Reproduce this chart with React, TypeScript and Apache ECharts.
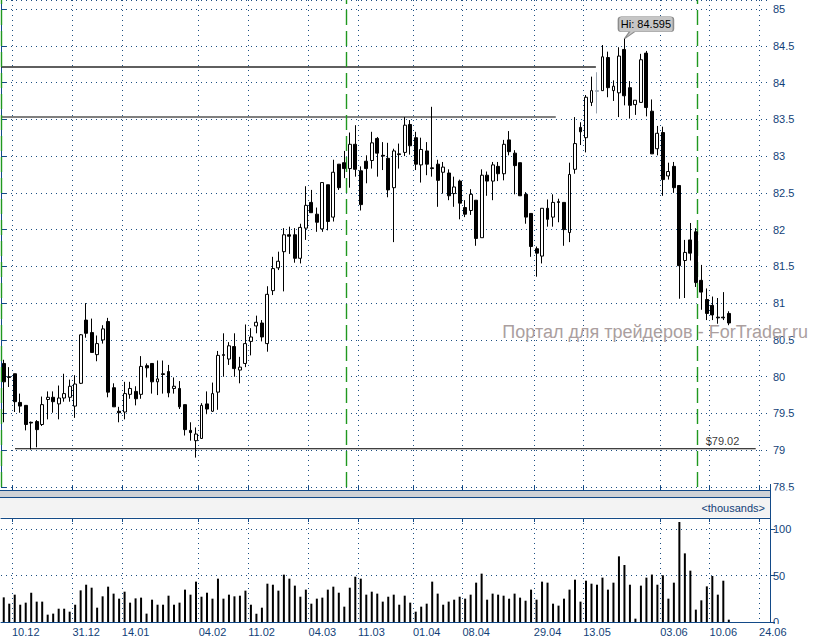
import React, { useEffect, useRef } from 'react';
import * as echarts from 'echarts';

// ---------- data ----------
const SLOT_COUNT = 140; // bar slots on the time axis (incl. empty future slots)

const tickBoundaries = [2, 13, 22, 36, 45, 56, 65, 75, 84, 97, 106, 120, 129, 138];
const tickLabels = ['10.12', '31.12', '14.01', '04.02', '11.02', '04.03', '11.03', '01.04', '08.04', '29.04', '13.05', '03.06', '10.06', '24.06'];

const opens = [
  80.18, 80.00, 80.04, 79.65, 79.61, 79.38, 79.39, 79.35, 79.69, 79.72,
  79.63, 79.71, 79.72, 79.60, 79.91, 80.77, 80.60, 80.30, 80.50, 80.75,
  79.85, 79.53, 79.52, 79.76, 79.80, 79.76, 80.15, 80.18, 79.93, 80.04,
  80.07, 79.84, 79.84, 79.62, 79.27, 79.13, 79.16, 79.63, 79.53, 79.79,
  80.30, 80.24, 80.41, 80.09, 80.18, 80.48, 80.69, 80.73, 80.45, 81.17,
  81.48, 81.70, 81.93, 81.93, 81.61, 82.02, 82.37, 82.21, 82.01, 82.61,
  82.17, 82.89, 82.91, 82.83, 83.16, 82.80, 82.93, 82.94, 83.24, 83.01,
  82.97, 82.57, 83.03, 83.05, 83.43, 83.25, 82.88, 83.07, 82.84, 82.89,
  82.78, 82.77, 82.49, 82.66, 82.30, 82.26, 82.40, 81.89, 82.74, 82.66,
  82.86, 82.76, 83.22, 83.04, 82.91, 82.48, 82.22, 81.74, 81.64, 82.29,
  82.17, 82.38, 82.37, 81.96, 82.82, 83.39, 83.25, 83.73, 83.89, 83.89,
  84.34, 83.89, 83.86, 84.45, 83.93, 83.70, 83.73, 84.40, 83.61, 83.10,
  83.32, 82.73, 82.86, 82.60, 81.58, 81.86, 81.97, 81.31, 81.05, 80.97,
  80.81, 80.81, 80.86,
];
const closes = [
  79.93, 79.99, 79.66, 79.60, 79.35, 79.37, 79.28, 79.62, 79.72, 79.66,
  79.71, 79.77, 79.87, 79.90, 80.57, 80.59, 80.33, 80.45, 80.65, 79.79,
  79.59, 79.51, 79.77, 79.84, 79.70, 80.14, 80.12, 79.93, 79.97, 80.03,
  79.78, 79.87, 79.59, 79.28, 79.24, 79.22, 79.61, 79.56, 79.77, 80.29,
  80.29, 80.42, 80.11, 80.13, 80.45, 80.54, 80.74, 80.54, 81.12, 81.47,
  81.57, 81.93, 81.91, 81.61, 82.03, 82.33, 82.23, 82.10, 82.64, 82.11,
  82.78, 82.57, 82.83, 83.16, 82.82, 82.34, 82.83, 83.18, 83.04, 83.00,
  82.54, 83.07, 83.02, 83.42, 83.14, 82.89, 83.09, 82.89, 82.83, 82.67,
  82.85, 82.46, 82.58, 82.36, 82.21, 82.48, 81.88, 82.74, 82.66, 82.88,
  82.76, 83.16, 83.06, 82.87, 82.46, 82.17, 81.77, 81.68, 82.29, 82.14,
  82.37, 82.37, 82.00, 82.75, 83.17, 83.33, 83.80, 83.89, 83.88, 84.35,
  83.93, 83.95, 84.36, 83.82, 83.69, 83.76, 84.31, 83.66, 83.03, 83.31,
  82.68, 82.79, 82.57, 81.51, 81.69, 81.68, 81.28, 81.15, 80.86, 80.84,
  80.80, 80.80, 80.73,
];
const lows = [
  79.38, 79.86, 79.52, 79.51, 79.27, 79.01, 79.04, 79.33, 79.42, 79.51,
  79.42, 79.66, 79.66, 79.44, 79.90, 80.53, 80.33, 80.21, 80.45, 79.72,
  79.59, 79.38, 79.42, 79.70, 79.61, 79.70, 79.99, 79.77, 79.75, 79.77,
  79.72, 79.77, 79.56, 79.20, 79.13, 78.90, 79.16, 79.49, 79.52, 79.55,
  80.00, 80.16, 80.00, 79.91, 80.13, 80.29, 80.59, 80.48, 80.34, 81.11,
  81.45, 81.16, 81.67, 81.55, 81.54, 81.86, 82.23, 81.97, 81.97, 81.99,
  82.11, 82.54, 82.70, 82.57, 82.72, 82.26, 82.63, 82.83, 82.72, 82.81,
  82.44, 81.83, 82.83, 83.00, 83.02, 82.81, 82.64, 82.74, 82.72, 82.31,
  82.49, 82.40, 82.31, 82.14, 82.17, 82.20, 81.78, 81.89, 82.46, 82.40,
  82.66, 82.67, 83.01, 82.48, 82.46, 82.08, 81.63, 81.36, 81.54, 82.04,
  82.04, 82.10, 81.78, 81.83, 82.76, 83.15, 83.05, 83.68, 83.58, 83.89,
  83.80, 83.75, 83.53, 83.69, 83.51, 83.56, 83.73, 83.54, 83.03, 83.01,
  82.46, 82.68, 82.50, 81.06, 81.07, 81.58, 81.22, 80.91, 80.77, 80.77,
  80.72, 80.77, 80.70,
];
const highs = [
  80.23, 80.13, 80.04, 79.77, 79.61, 79.39, 79.41, 79.73, 79.80, 79.80,
  79.88, 80.04, 79.96, 80.02, 80.58, 81.00, 80.79, 80.56, 80.70, 80.80,
  79.91, 79.59, 79.93, 79.93, 79.87, 80.28, 80.18, 80.18, 80.22, 80.22,
  80.16, 79.99, 79.94, 79.62, 79.38, 79.31, 79.64, 79.80, 79.92, 80.35,
  80.59, 80.47, 80.59, 80.27, 80.71, 80.66, 80.83, 80.77, 81.23, 81.63,
  81.70, 82.02, 82.04, 82.02, 82.08, 82.59, 82.54, 82.30, 82.64, 82.61,
  82.95, 82.89, 83.07, 83.32, 83.42, 82.86, 83.01, 83.33, 83.26, 83.19,
  83.18, 83.10, 83.17, 83.53, 83.49, 83.33, 83.25, 83.19, 83.67, 82.95,
  82.92, 82.82, 82.72, 82.68, 82.40, 82.55, 82.40, 82.82, 82.79, 82.92,
  82.92, 83.22, 83.34, 83.08, 82.91, 82.51, 82.22, 81.77, 82.29, 82.41,
  82.48, 82.42, 82.37, 82.91, 83.53, 83.46, 83.83, 84.08, 84.14, 84.51,
  84.42, 84.03, 84.48, 84.595, 84.02, 83.76, 84.39, 84.43, 83.77, 83.41,
  83.40, 82.91, 82.92, 82.60, 81.86, 82.09, 82.02, 81.52, 81.20, 81.09,
  81.07, 81.15, 80.89,
];
const volumes = [
  26.5, 19.7, 29.4, 18.6, 20.8, 31.5, 21.9, 21.9, 7.9, 9.0,
  14.3, 14.3, 11.1, 18.6, 34.0, 40.1, 36.9, 15.4, 27.6, 38.0,
  30.5, 25.1, 32.6, 20.8, 25.4, 26.2, 9.0, 24.0, 18.6, 18.6,
  28.3, 18.6, 20.8, 34.8, 29.4, 43.4, 27.2, 31.5, 25.1, 46.6,
  25.1, 29.4, 27.6, 28.3, 33.7, 18.6, 9.0, 15.4, 41.2, 40.1,
  33.7, 50.9, 46.6, 39.1, 27.2, 34.8, 19.7, 25.1, 26.2, 34.8,
  38.0, 31.5, 16.5, 36.9, 48.7, 46.6, 29.4, 32.6, 30.5, 21.9,
  27.2, 29.4, 18.6, 28.3, 20.8, 11.1, 16.5, 19.7, 43.4, 30.5,
  18.6, 21.9, 24.0, 27.2, 25.1, 29.4, 42.3, 52.0, 24.0, 30.5,
  29.4, 28.3, 25.1, 30.5, 26.2, 22.9, 34.8, 24.0, 43.4, 42.3,
  19.7, 17.6, 25.1, 34.8, 45.5, 21.9, 44.4, 41.2, 40.1, 47.7,
  34.8, 42.3, 70.6, 61.3, 40.1, 3.6, 39.1, 47.7, 51.0, 40.1,
  50.2, 25.1, 42.3, 107.5, 73.8, 55.2, 13.3, 23.3, 38.3, 49.5,
  29.4, 44.4, 2.5,
];

const greyBarIndex = 108;
const highBarIndex = 113;
const highValue = 84.595;

// horizontal levels: [price, fromBoundary, toBoundary]
const resistanceUpper = [84.21, 0, 108.3];
const resistanceLower = [83.53, 0, 101];
const supportLevel = [79.02, 2.55, 137.4];
const supportLabelAt = 131.35;
const separatorBoundaries = [0, 62.9, 126.8];

// ---------- styling ----------
const FONT = '"Liberation Sans", Arial, sans-serif';
const BLUE = '#134a88';
const LABEL_BLUE = '#123f78';
const DOT = { color: '#1d4f82', type: [1, 4] as number[], width: 1 };

const slotNames = Array.from({ length: SLOT_COUNT }, (_, i) => 's' + i);
const boundaryNames = Array.from({ length: SLOT_COUNT + 1 }, (_, i) => 'b' + i);
const tickSet = new Set(tickBoundaries);
const isTick = (i: number) => tickSet.has(i);

const candleData = opens.map((o, i) => {
  const v = [o, closes[i], lows[i], highs[i]];
  if (i === greyBarIndex) {
    return {
      value: v,
      itemStyle: { color: '#9aa4b0', color0: '#9aa4b0', borderColor: '#9aa4b0', borderColor0: '#9aa4b0' },
    };
  }
  return v;
});

const MAIN_TOP = 0;
const MAIN_H = 487;
const PRICE_MIN = 78.5;
const PRICE_MAX = 85 + 9 / ((MAIN_H - 9) / 6.5);
const VOL_TOP = 518;
const VOL_H = 104;
const VOL_MAX = 104 / 0.93;

const halfStep = (v: number) => Math.abs(v * 2 - Math.round(v * 2)) < 1e-6;
const priceFmt = (v: number) => (halfStep(v) && v <= 85 ? String(+v.toFixed(1)) : '');
const volFmt = (v: number) => (v % 50 === 0 ? String(v) : '');

const calloutPath =
  'path://M3,0L52,0Q55,0 55,3L55,12Q55,15 52,15L16,15L6,22L11,15L3,15Q0,15 0,12L0,3Q0,0 3,0Z';

function buildOption(): any {
  return {
    animation: false,
    backgroundColor: '#ffffff',
    textStyle: { fontFamily: FONT },
    grid: [
      { left: 1, top: MAIN_TOP, width: 769, height: MAIN_H, containLabel: false },
      { left: 1, top: VOL_TOP, width: 769, height: VOL_H, containLabel: false },
    ],
    xAxis: [
      { type: 'category', gridIndex: 0, data: slotNames, boundaryGap: true, show: false },
      {
        type: 'category', gridIndex: 0, data: boundaryNames, boundaryGap: false, position: 'bottom', offset: 3,
        axisLine: { show: true, lineStyle: { color: BLUE, width: 1 } },
        axisTick: { show: true, inside: true, length: 4, interval: (i: number) => isTick(i), lineStyle: { color: BLUE } },
        axisLabel: { show: false },
        splitLine: { show: true, interval: (i: number) => isTick(i), lineStyle: DOT },
      },
      { type: 'value', gridIndex: 0, min: 0, max: SLOT_COUNT, show: false },
      { type: 'category', gridIndex: 1, data: slotNames, boundaryGap: true, show: false },
      {
        type: 'category', gridIndex: 1, data: boundaryNames, boundaryGap: false, position: 'bottom', z: 3,
        axisLine: { show: true, lineStyle: { color: BLUE, width: 1 } },
        axisTick: { show: false },
        axisLabel: {
          show: true,
          interval: (i: number) => isTick(i),
          formatter: (_v: string, i: number) => {
            const k = tickBoundaries.indexOf(i);
            return k >= 0 ? tickLabels[k] : '';
          },
          align: 'left', margin: 4, color: LABEL_BLUE, fontSize: 11, fontFamily: FONT,
        },
        splitLine: { show: true, interval: (i: number) => isTick(i), lineStyle: DOT },
      },
      {
        type: 'category', gridIndex: 1, data: boundaryNames, boundaryGap: false, position: 'top',
        axisLine: { show: true, lineStyle: { color: BLUE, width: 1 } },
        axisTick: { show: true, inside: true, length: 4, interval: (i: number) => isTick(i), lineStyle: { color: BLUE } },
        axisLabel: { show: false },
        splitLine: { show: false },
      },
    ],
    yAxis: [
      {
        type: 'value', gridIndex: 0, position: 'right', min: PRICE_MIN, max: PRICE_MAX, interval: 0.5,
        axisLine: { show: true, lineStyle: { color: BLUE } },
        axisTick: { show: true, length: 5, lineStyle: { color: BLUE } },
        axisLabel: { show: true, formatter: priceFmt, color: LABEL_BLUE, fontSize: 11, margin: 3, fontFamily: FONT, showMaxLabel: false },
        splitLine: { show: true, lineStyle: DOT },
      },
      {
        type: 'value', gridIndex: 1, position: 'right', min: 0, max: VOL_MAX, interval: 50, z: 1,
        axisLine: { show: true, lineStyle: { color: BLUE } },
        axisTick: { show: true, length: 5, lineStyle: { color: BLUE } },
        axisLabel: { show: true, formatter: volFmt, color: LABEL_BLUE, fontSize: 11, margin: 3, fontFamily: FONT, showMaxLabel: false },
        splitLine: { show: true, lineStyle: DOT },
      },
    ],
    series: [
      {
        type: 'candlestick', name: 'price', xAxisIndex: 0, yAxisIndex: 0,
        data: candleData, barWidth: 3.4, z: 5,
        itemStyle: { color: '#ffffff', color0: '#000000', borderColor: '#000000', borderColor0: '#000000', borderWidth: 1 },
        markPoint: {
          silent: true,
          symbol: calloutPath,
          symbolSize: [55, 22],
          symbolOffset: [21.5, -11],
          itemStyle: { color: '#c6c6c6', borderColor: '#8c8c8c', borderWidth: 1 },
          label: {
            show: true, position: 'inside', offset: [0, -3.5], color: '#000', fontSize: 11, fontFamily: FONT,
            formatter: () => 'Hi: ' + highValue,
          },
          data: [{ coord: [highBarIndex, highValue] }],
        },
      },
      {
        type: 'line', xAxisIndex: 2, yAxisIndex: 0, symbol: 'none', silent: true, z: 4,
        lineStyle: { color: '#2a2a2a', width: 1.5 },
        data: [[resistanceUpper[1], resistanceUpper[0]], [resistanceUpper[2], resistanceUpper[0]]],
      },
      {
        type: 'line', xAxisIndex: 2, yAxisIndex: 0, symbol: 'none', silent: true, z: 4,
        lineStyle: { color: '#808080', width: 2 },
        data: [[resistanceLower[1], resistanceLower[0]], [resistanceLower[2], resistanceLower[0]]],
      },
      {
        type: 'line', xAxisIndex: 2, yAxisIndex: 0, symbol: 'none', silent: true, z: 4,
        lineStyle: { color: '#000000', width: 1 },
        data: [[supportLevel[1], supportLevel[0]], [supportLevel[2], supportLevel[0]]],
        markLine: {
          silent: true, symbol: 'none', animation: false,
          label: { show: false },
          lineStyle: { color: '#1f981f', type: [15, 6], width: 1.4 },
          data: separatorBoundaries.map((b) => ({ xAxis: b })),
        },
      },
      {
        type: 'scatter', xAxisIndex: 2, yAxisIndex: 0, silent: true, symbolSize: 1, z: 6,
        itemStyle: { color: 'transparent' },
        label: {
          show: true, position: 'top', distance: 2, color: '#000', fontSize: 11, fontFamily: FONT,
          formatter: () => '$' + supportLevel[0].toFixed(2),
        },
        data: [[supportLabelAt, supportLevel[0]]],
      },
      {
        type: 'bar', xAxisIndex: 3, yAxisIndex: 1, data: volumes, barWidth: 2,
        itemStyle: { color: '#000000' },
      },
    ],
    graphic: [
      {
        type: 'text', x: 808, y: 332, z: 1, silent: true,
        style: { text: 'Портал для трейдеров - ForTrader.ru', fill: '#ab9f9f', fontSize: 18, fontFamily: FONT, align: 'right', verticalAlign: 'middle' },
      },
      // clips the lower part of the volume axis "0" label, like the reference
      { type: 'rect', z: 2, silent: true, shape: { x: 771, y: 624, width: 44, height: 17 }, style: { fill: '#ffffff' } },
      { type: 'rect', z: 100, silent: true, shape: { x: 0, y: 490.6, width: 815, height: 27 }, style: { fill: '#ffffff' } },
      { type: 'rect', z: 101, silent: true, shape: { x: 0, y: 491, width: 770, height: 6 }, style: { fill: '#cfd2d6' } },
      { type: 'line', z: 102, silent: true, shape: { x1: 0, y1: 490.5, x2: 770, y2: 490.5 }, style: { stroke: BLUE, lineWidth: 1 } },
      { type: 'line', z: 102, silent: true, shape: { x1: 0, y1: 497.5, x2: 770, y2: 497.5 }, style: { stroke: BLUE, lineWidth: 1 } },
      { type: 'rect', z: 101, silent: true, shape: { x: 0, y: 498, width: 770, height: 19.5 }, style: { fill: '#f3f3f3' } },
      { type: 'line', z: 102, silent: true, shape: { x1: 770.5, y1: 484, x2: 770.5, y2: 522 }, style: { stroke: BLUE, lineWidth: 1 } },
      {
        type: 'text', x: 765, y: 508, z: 103, silent: true,
        style: { text: '<thousands>', fill: LABEL_BLUE, fontSize: 11, fontFamily: FONT, align: 'right', verticalAlign: 'middle' },
      },
    ],
  };
}

export default function App() {
  const ref = useRef<HTMLDivElement>(null);
  useEffect(() => {
    if (!ref.current) return;
    const chart = echarts.init(ref.current, null, { renderer: 'svg' });
    chart.setOption(buildOption());
    return () => chart.dispose();
  }, []);
  return (
    <div
      ref={ref}
      style={{ position: 'absolute', left: 0, top: 0, width: 815, height: 641, background: '#ffffff' }}
    />
  );
}
